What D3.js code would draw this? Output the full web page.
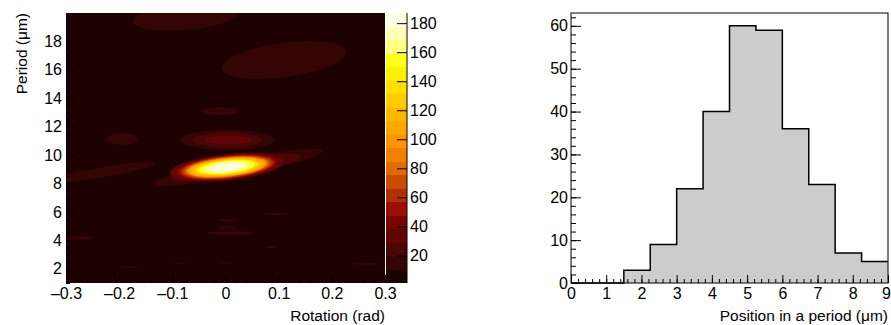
<!DOCTYPE html>
<html>
<head>
<meta charset="utf-8">
<script src="https://cdn.jsdelivr.net/npm/d3@7"></script>
<style>
  body { margin: 0; background: #fff; }
  svg { display: block; font-family: "Liberation Sans", Arial, sans-serif; }
</style>
</head>
<body>
<svg id="chart" width="891" height="325"></svg>
<script>
const rotTicks = [-0.3, -0.2, -0.1, 0, 0.1, 0.2, 0.3];
const perTicks = [2, 4, 6, 8, 10, 12, 14, 16, 18];
const zTicks = [20, 40, 60, 80, 100, 120, 140, 160, 180];
const zMin = 1, zMax = 187, zFloor = 4;

// blob centres (rad, um), half sizes (rad, um), tilt (deg), level (z)
const blobRot  = [-0.075, 0.110, -0.010, -0.194, 0.003, 0.003, 0.005, -0.230, 0.0235, 0.020,
                  0.003, 0.003, 0.003, 0.003, 0.003, 0.003, 0.003, 0.003, 0.003, 0.003, 0.003, 0.003, 0.003,
                  0.004, 0.004, 0.010, 0.096, -0.276, 0.085, -0.180, -0.085, 0.000, 0.265];
const blobPer  = [19.75, 16.69, 13.10, 11.13, 11.06, 11.06, 11.06, 8.80, 9.13, 9.12,
                  9.15, 9.15, 9.15, 9.15, 9.15, 9.15, 9.15, 9.15, 9.15, 9.15, 9.15, 9.15, 9.15,
                  5.40, 4.90, 4.52, 5.86, 4.17, 3.53, 2.10, 2.40, 2.40, 2.35];
const blobRx   = [0.100, 0.118, 0.034, 0.029, 0.089, 0.066, 0.043, 0.100, 0.162, 0.125,
                  0.108, 0.098, 0.092, 0.087, 0.083, 0.078, 0.073, 0.067, 0.060, 0.053, 0.045, 0.036, 0.025,
                  0.020, 0.020, 0.045, 0.025, 0.025, 0.010, 0.020, 0.016, 0.014, 0.030];
const blobRy   = [0.95, 1.20, 0.28, 0.42, 0.70, 0.53, 0.32, 0.35, 0.60, 0.55,
                  0.92, 0.85, 0.80, 0.76, 0.72, 0.67, 0.62, 0.57, 0.51, 0.45, 0.38, 0.31, 0.22,
                  0.10, 0.10, 0.13, 0.08, 0.13, 0.07, 0.05, 0.05, 0.05, 0.06];
const blobTilt = [5, 8, 0, 0, 0, 0, 0, 10, 11, 10,
                  6, 6, 6, 6, 6, 6, 6, 6, 6, 6, 6, 6, 6,
                  0, 0, 0, 0, 0, 0, 0, 0, 0, 0];
const blobZ    = [14, 14, 14, 14, 14, 24, 33, 14, 14, 24,
                  33, 42, 52, 62, 75, 90, 105, 120, 135, 150, 162, 172, 182,
                  14, 14, 14, 14, 14, 14, 14, 14, 14, 14];

// ---- histogram ----
const posTicks = [0, 1, 2, 3, 4, 5, 6, 7, 8, 9];
const countTicks = [0, 10, 20, 30, 40, 50, 60];
const binEdges = [0, 0.75, 1.5, 2.25, 3, 3.75, 4.5, 5.25, 6, 6.75, 7.5, 8.25, 9];
const binCounts = [0, 0, 3, 9, 22, 40, 60, 59, 36, 23, 7, 5];

const palette = ["#1e0202", "#340504", "#4a0504", "#600404", "#780202", "#9a1000", "#b03000",
  "#c84c00", "#e06c00", "#f08000", "#ff9400", "#ffa600", "#ffb800", "#ffca00", "#ffde00",
  "#fff000", "#ffff20", "#ffff80", "#ffffb8", "#ffffe8"];

const svg = d3.select("#chart");
const fontSize = 16;
const titleSize = 15.5;

const H = { left: 66, right: 385, top: 13, bottom: 283 };
const x = d3.scaleLinear().domain([-0.3, 0.3]).range([H.left, H.right]);
const y = d3.scaleLinear().domain([1, 20]).range([H.bottom, H.top]);
const zColor = d3.scaleQuantize().domain([zMin, zMax]).range(palette);

svg.append("clipPath").attr("id", "heatclip")
  .append("rect")
  .attr("x", H.left).attr("y", H.top)
  .attr("width", H.right - H.left).attr("height", H.bottom - H.top);

const heat = svg.append("g").attr("clip-path", "url(#heatclip)");
heat.append("rect")
  .attr("x", x(-0.3)).attr("y", y(20))
  .attr("width", x(0.3) - x(-0.3)).attr("height", y(1) - y(20))
  .attr("fill", zColor(zFloor));

const blobs = blobRot.map((r, i) => ({
  rot: r, per: blobPer[i], rx: blobRx[i], ry: blobRy[i], tilt: blobTilt[i], z: blobZ[i]
})).sort((a, b) => a.z - b.z);

heat.selectAll("ellipse").data(blobs).join("ellipse")
  .attr("transform", d => `translate(${x(d.rot)},${y(d.per)}) rotate(${-d.tilt})`)
  .attr("rx", d => x(d.rot + d.rx) - x(d.rot))
  .attr("ry", d => y(d.per - d.ry) - y(d.per))
  .attr("fill", d => zColor(d.z));

function styleAxis(g) {
  g.select(".domain").remove();
  g.selectAll("line").attr("stroke", "#000");
  g.selectAll("text").attr("font-size", fontSize).attr("fill", "#000")
    .attr("font-family", "Liberation Sans, Arial, sans-serif");
}

const fmt = d => d < 0 ? "\u2013" + Math.abs(d) : String(d);

// heatmap axes
svg.append("g").attr("transform", `translate(0,${H.bottom})`)
  .call(d3.axisBottom(x).tickValues(d3.range(-0.3, 0.3001, 0.02)).tickSize(-4).tickFormat(""))
  .call(styleAxis);
svg.append("g").attr("transform", `translate(0,${H.bottom})`)
  .call(d3.axisBottom(x).tickValues(rotTicks).tickSize(-8).tickPadding(5).tickFormat(fmt))
  .call(styleAxis);
svg.append("g").attr("transform", `translate(${H.left},0)`)
  .call(d3.axisLeft(y).tickValues(d3.range(1, 20.01, 0.5)).tickSize(-4).tickFormat(""))
  .call(styleAxis);
svg.append("g").attr("transform", `translate(${H.left},0)`)
  .call(d3.axisLeft(y).tickValues(perTicks).tickSize(-9).tickPadding(4))
  .call(styleAxis);

svg.append("text")
  .attr("transform", `translate(27,${H.top}) rotate(-90)`)
  .attr("text-anchor", "end").attr("font-size", titleSize)
  .text("Period (\u03bcm)");
svg.append("text")
  .attr("x", H.right).attr("y", 321)
  .attr("text-anchor", "end").attr("font-size", titleSize)
  .text("Rotation (rad)");

// palette
const P = { left: 386, right: 407 };
const yZ = d3.scaleLinear().domain([zMin, zMax]).range([H.bottom, H.top]);
const zEdges = [zMin, ...zColor.thresholds(), zMax];
svg.append("g").selectAll("rect").data(palette).join("rect")
  .attr("x", P.left).attr("width", P.right - P.left)
  .attr("y", (c, i) => yZ(zEdges[i + 1]))
  .attr("height", (c, i) => yZ(zEdges[i]) - yZ(zEdges[i + 1]))
  .attr("fill", c => c)
  .attr("shape-rendering", "crispEdges");
svg.append("g").attr("transform", `translate(${P.right},0)`)
  .call(d3.axisRight(yZ).tickValues(zTicks).tickSize(-10).tickPadding(3))
  .call(styleAxis);
svg.append("line")
  .attr("x1", P.right).attr("x2", P.right).attr("y1", H.top).attr("y2", H.bottom)
  .attr("stroke", "#000");

// ---- histogram ----
const R = { left: 571, right: 888, top: 13, bottom: 283 };
const xp = d3.scaleLinear().domain([0, 9]).range([R.left, R.right]);
const yc = d3.scaleLinear().domain([0, 63]).range([R.bottom, R.top]);

const steps = [];
binCounts.forEach((c, i) => {
  steps.push([binEdges[i], c], [binEdges[i + 1], c]);
});

svg.append("path")
  .datum(steps)
  .attr("fill", "#cccccc")
  .attr("d", d3.area().x(d => xp(d[0])).y0(yc(0)).y1(d => yc(d[1])));
svg.append("path")
  .datum(steps)
  .attr("fill", "none").attr("stroke", "#000").attr("stroke-width", 1.5)
  .attr("d", d3.line().x(d => xp(d[0])).y(d => yc(d[1])));

svg.append("g").attr("transform", `translate(0,${R.bottom})`)
  .call(d3.axisBottom(xp).tickValues(d3.range(0, 9.001, 0.2)).tickSize(-4).tickFormat(""))
  .call(styleAxis);
svg.append("g").attr("transform", `translate(0,${R.bottom})`)
  .call(d3.axisBottom(xp).tickValues(posTicks).tickSize(-8).tickPadding(5))
  .call(styleAxis)
  .call(g => g.selectAll("text").filter(d => d === 9).attr("dx", -2));
svg.append("g").attr("transform", `translate(${R.left},0)`)
  .call(d3.axisLeft(yc).tickValues(d3.range(0, 63.01, 2)).tickSize(-5).tickFormat(""))
  .call(styleAxis);
svg.append("g").attr("transform", `translate(${R.left},0)`)
  .call(d3.axisLeft(yc).tickValues(countTicks).tickSize(-10).tickPadding(3))
  .call(styleAxis);

svg.append("rect")
  .attr("x", R.left).attr("y", R.top)
  .attr("width", R.right - R.left).attr("height", R.bottom - R.top)
  .attr("fill", "none").attr("stroke", "#000");

svg.append("text")
  .attr("x", R.right).attr("y", 321)
  .attr("text-anchor", "end").attr("font-size", titleSize)
  .text("Position in a period (\u03bcm)");
</script>
</body>
</html>
